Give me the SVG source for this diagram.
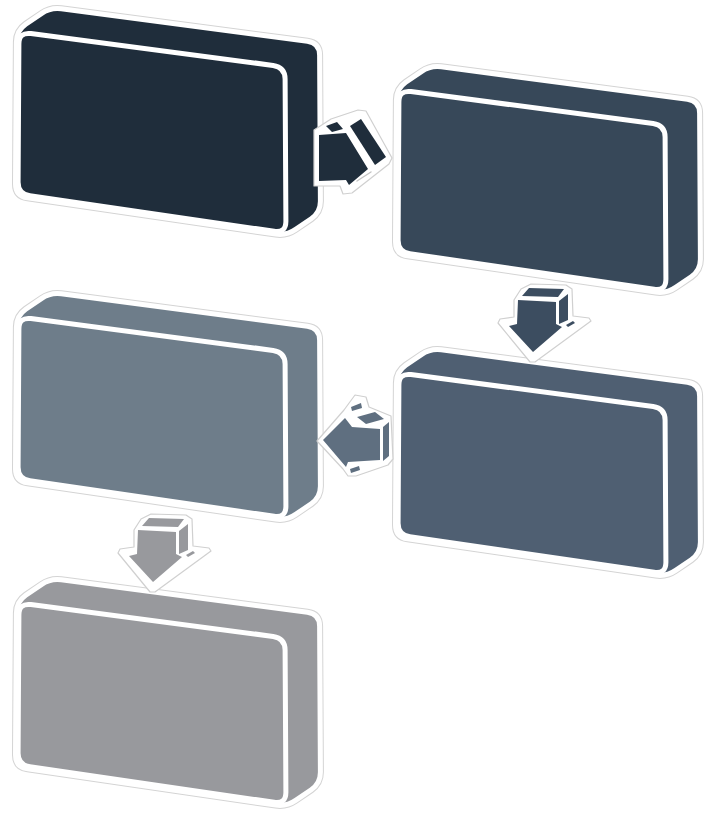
<svg xmlns="http://www.w3.org/2000/svg" xmlns:xlink="http://www.w3.org/1999/xlink" width="705" height="814" viewBox="0 0 705 814">
<defs>
<style>
.halo{fill:none;stroke:#d4d4d4;stroke-width:12;stroke-linejoin:round}
.rim{fill:none;stroke:#ffffff;stroke-width:10;stroke-linejoin:round}
.body{stroke:none}
.face{stroke:#ffffff;stroke-width:5;stroke-linejoin:round}
.sil{fill:#ffffff;stroke:#d0d0d0;stroke-width:1.2;stroke-linejoin:round}
.seam{fill:none;stroke:#c4c4c4;stroke-width:1.4;stroke-linecap:round}
</style>
<path id="hull" d="M18,184 L18.9,42 Q19,32 27.2,26.3 L42.8,15.7 Q51,10 60.9,11.3 L307.1,43.7 Q317,45 317.1,55 L317.9,201 Q318,211 309.8,216.7 L294.2,227.3 Q286,233 276.1,231.6 L27.9,195.4 Q18,194 18,184 Z"/>
<path id="front" d="M18.9,44 Q19,32 30.9,33.6 L273.1,65.4 Q285,67 285.1,79 L285.9,221 Q286,233 274.1,231.3 L29.9,195.7 Q18,194 18.1,182 Z"/>
<g id="downArrow">
<polygon class="sil" points="521,289 531,284 566,285 572,289 573,316 589,318 591,321 535,362 530,362 498,323 500,319 514,317 514,300"/>
<polygon points="522,296 529,288 564,289 558,297"/>
<polygon points="518,300 556,302 556,324 562,327 533,352 509,326 517,324"/>
<polygon points="559,301 568,294 568,320 559,324"/>
<polygon points="566,325 573,321 575,323 568,327"/>
</g>
</defs>
<rect width="705" height="814" fill="#ffffff"/>
<g id="nodes">
<g id="box1" fill="#1f2d3b">
<use href="#hull" class="halo"/><use href="#hull" class="rim"/><use href="#hull" class="body"/><use href="#front" class="face"/>
</g>
<g id="box2" fill="#374859" transform="translate(380,58)">
<use href="#hull" class="halo"/><use href="#hull" class="rim"/><use href="#hull" class="body"/><use href="#front" class="face"/>
</g>
<g id="box3" fill="#6e7d8a" transform="translate(0,285)">
<use href="#hull" class="halo"/><use href="#hull" class="rim"/><use href="#hull" class="body"/><use href="#front" class="face"/>
</g>
<g id="box4" fill="#4f5f72" transform="translate(380,341)">
<use href="#hull" class="halo"/><use href="#hull" class="rim"/><use href="#hull" class="body"/><use href="#front" class="face"/>
</g>
<g id="box5" fill="#98999d" transform="translate(0,571)">
<use href="#hull" class="halo"/><use href="#hull" class="rim"/><use href="#hull" class="body"/><use href="#front" class="face"/>
</g>
</g>
<g id="connectors">
<g id="arrow1" fill="#1f2d3b">
<polygon class="sil" points="314,130 331,119 358,110 366,111 392,158 389,164 352,193 343,194 340,186 314,186"/>
<polygon points="326,126 337,122 343,129 332,132"/>
<polygon points="319,135 346,133 368,169 349,185 346,180 319,181"/>
<polygon points="350,126 361,119 386,157 375,165"/>
<line class="seam" x1="357" y1="181" x2="371" y2="172"/>
</g>
<g id="arrow2" fill="#3c4d60">
<use href="#downArrow"/>
</g>
<g id="arrow3" fill="#5f6f80">
<polygon class="sil" points="355,395 366,397 369,407 391,416 393,459 388,465 356,476 348,476 343,469 317,441 344,410"/>
<polygon points="351,407 361,403 362,408 352,411"/>
<polygon points="357,417 375,412 384,419 366,424"/>
<polygon points="323,440 345,418 352,427 380,429 380,460 348,462 346,467"/>
<polygon points="383,427 389,422 389,456 383,461"/>
<polygon points="350,469 359,466 360,470 351,473"/>
</g>
<g id="arrow4" fill="#98999d" transform="translate(-380,230)">
<use href="#downArrow"/>
</g>
</g>
</svg>
